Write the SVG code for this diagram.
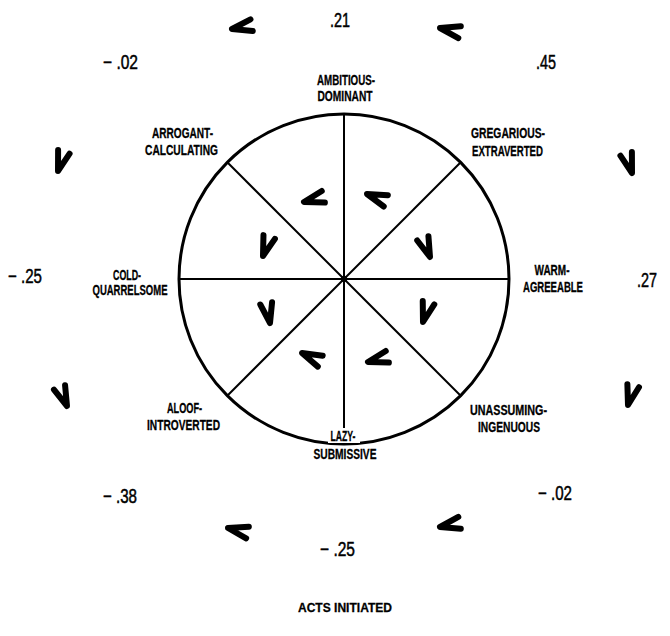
<svg xmlns="http://www.w3.org/2000/svg" xmlns:xlink="http://www.w3.org/1999/xlink" width="670" height="636" viewBox="0 0 670 636">
<style>
.lbl{font-family:"Liberation Sans Narrow","Liberation Sans",Arial,sans-serif;font-weight:bold;font-size:14.5px;fill:#000;stroke:#000;stroke-width:0.3;text-anchor:middle}
.num{font-family:"Liberation Sans Narrow","Liberation Sans",Arial,sans-serif;font-size:20px;fill:#000;stroke:#000;stroke-width:0.5;text-anchor:middle}
.ttl{font-family:"Liberation Sans Narrow","Liberation Sans",Arial,sans-serif;font-weight:bold;font-size:13.5px;fill:#000;stroke:#000;stroke-width:0.3;text-anchor:middle}
.chev{fill:none;stroke:#000;stroke-width:6;stroke-linecap:round;stroke-linejoin:round}
.spoke{stroke:#000;stroke-width:2;fill:none}
</style>
<defs>
<path id="chev" class="chev" d="M20,-6 L0,0 L20,6"/>
</defs>
<rect width="670" height="636" fill="#fff"/>
<g id="connectors">
<line class="spoke" x1="344" y1="279" x2="344" y2="114"/>
<line class="spoke" x1="344" y1="279" x2="344" y2="444"/>
<line class="spoke" x1="344" y1="279" x2="179" y2="279"/>
<line class="spoke" x1="344" y1="279" x2="509" y2="279"/>
<line class="spoke" x1="344" y1="279" x2="227.3" y2="162.3"/>
<line class="spoke" x1="344" y1="279" x2="460.7" y2="162.3"/>
<line class="spoke" x1="344" y1="279" x2="227.3" y2="395.7"/>
<line class="spoke" x1="344" y1="279" x2="460.7" y2="395.7"/>
<circle cx="344" cy="279" r="3.2" fill="#000"/>
</g>
<g id="circle">
<circle cx="344" cy="279" r="165" fill="none" stroke="#000" stroke-width="3"/>
</g>
<g id="inner-marks">
<use xlink:href="#chev" transform="translate(304,202) rotate(-15)"/>
<use xlink:href="#chev" transform="translate(367,194) rotate(20)"/>
<use xlink:href="#chev" transform="translate(263,256) rotate(-72)"/>
<use xlink:href="#chev" transform="translate(430,257) rotate(-111)"/>
<use xlink:href="#chev" transform="translate(270,323) rotate(-101)"/>
<use xlink:href="#chev" transform="translate(423,322) rotate(-74)"/>
<use xlink:href="#chev" transform="translate(302,353) rotate(24)"/>
<use xlink:href="#chev" transform="translate(368,362) rotate(-15)"/>
</g>
<g id="outer-marks">
<use xlink:href="#chev" transform="translate(232,29) rotate(-11)"/>
<use xlink:href="#chev" transform="translate(440,28) rotate(12)"/>
<use xlink:href="#chev" transform="translate(58,171) rotate(-73)"/>
<use xlink:href="#chev" transform="translate(632,173) rotate(-107)"/>
<use xlink:href="#chev" transform="translate(67,406) rotate(-112)"/>
<use xlink:href="#chev" transform="translate(628,405) rotate(-75)"/>
<use xlink:href="#chev" transform="translate(228,528) rotate(13)"/>
<use xlink:href="#chev" transform="translate(440,527) rotate(-12)"/>
</g>
<g id="node-ambitious">
<text class="lbl" x="346" y="85" textLength="58" lengthAdjust="spacingAndGlyphs">AMBITIOUS-</text>
<text class="lbl" x="345" y="101" textLength="55" lengthAdjust="spacingAndGlyphs">DOMINANT</text>
</g>
<g id="node-gregarious">
<text class="lbl" x="508" y="138" textLength="74" lengthAdjust="spacingAndGlyphs">GREGARIOUS-</text>
<text class="lbl" x="507.5" y="156" textLength="71" lengthAdjust="spacingAndGlyphs">EXTRAVERTED</text>
</g>
<g id="node-warm">
<text class="lbl" x="552" y="275" textLength="35" lengthAdjust="spacingAndGlyphs">WARM-</text>
<text class="lbl" x="553" y="292" textLength="60" lengthAdjust="spacingAndGlyphs">AGREEABLE</text>
</g>
<g id="node-unassuming">
<text class="lbl" x="508.5" y="415" textLength="77" lengthAdjust="spacingAndGlyphs">UNASSUMING-</text>
<text class="lbl" x="509" y="432" textLength="62" lengthAdjust="spacingAndGlyphs">INGENUOUS</text>
</g>
<g id="node-lazy">
<rect x="328" y="428" width="32" height="15" fill="#fff"/>
<text class="lbl" x="343" y="441" textLength="25" lengthAdjust="spacingAndGlyphs">LAZY-</text>
<text class="lbl" x="345" y="459" textLength="63" lengthAdjust="spacingAndGlyphs">SUBMISSIVE</text>
</g>
<g id="node-aloof">
<text class="lbl" x="184.5" y="413" textLength="35" lengthAdjust="spacingAndGlyphs">ALOOF-</text>
<text class="lbl" x="183.5" y="430" textLength="73" lengthAdjust="spacingAndGlyphs">INTROVERTED</text>
</g>
<g id="node-cold">
<text class="lbl" x="127" y="280" textLength="28" lengthAdjust="spacingAndGlyphs">COLD-</text>
<text class="lbl" x="130" y="295" textLength="75" lengthAdjust="spacingAndGlyphs">QUARRELSOME</text>
</g>
<g id="node-arrogant">
<text class="lbl" x="182.5" y="138" textLength="61" lengthAdjust="spacingAndGlyphs">ARROGANT-</text>
<text class="lbl" x="181.5" y="155" textLength="73" lengthAdjust="spacingAndGlyphs">CALCULATING</text>
</g>
<g id="values">
<text class="num" x="340" y="27" textLength="20" lengthAdjust="spacingAndGlyphs">.21</text>
<text class="num" x="546" y="69" textLength="20" lengthAdjust="spacingAndGlyphs">.45</text>
<text class="num" x="647" y="287" textLength="20" lengthAdjust="spacingAndGlyphs">.27</text>
<text class="num" x="555" y="500" textLength="34" lengthAdjust="spacingAndGlyphs">− .02</text>
<text class="num" x="337.5" y="556" textLength="35" lengthAdjust="spacingAndGlyphs">− .25</text>
<text class="num" x="120" y="503" textLength="34" lengthAdjust="spacingAndGlyphs">− .38</text>
<text class="num" x="25" y="283" textLength="34" lengthAdjust="spacingAndGlyphs">− .25</text>
<text class="num" x="120.5" y="69" textLength="35" lengthAdjust="spacingAndGlyphs">− .02</text>
</g>
<g id="title">
<text class="ttl" x="345" y="612" textLength="94" lengthAdjust="spacingAndGlyphs">ACTS INITIATED</text>
</g>
</svg>
